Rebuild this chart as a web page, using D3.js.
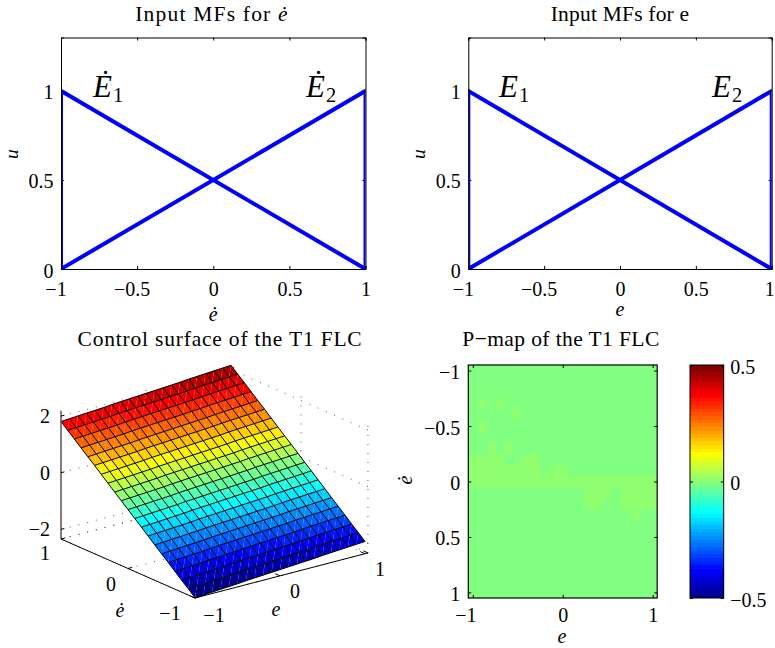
<!DOCTYPE html>
<html>
<head>
<meta charset="utf-8">
<script src="https://cdn.jsdelivr.net/npm/d3@7"></script>
<style>
  body { margin: 0; background: #fff; }
  svg { display: block; }
  text { font-family: "Liberation Serif", serif; fill: #000; }
  .mf-axis path, .mf-axis line { stroke: #000; stroke-width: 1; }
</style>
</head>
<body>
<svg id="fig" width="775" height="648"></svg>
<script>
// membership functions, same for both inputs
var mfTicksX = [-1, -0.5, 0, 0.5, 1],
    mfTicksU = [0, 0.5, 1],
    mfLine1X = [-1, -1, 1],
    mfLine1U = [0, 1, 0],
    mfLine2X = [-1, 1, 1],
    mfLine2U = [0, 1, 0];

// control surface, one row per edot value, one column per e value
var gridValues = [-1, -0.9, -0.8, -0.7, -0.6, -0.5, -0.4, -0.3, -0.2, -0.1, 0, 0.1, 0.2, 0.3, 0.4, 0.5, 0.6, 0.7, 0.8, 0.9, 1];
var surfaceZ = [
  [-2.33,-2.31,-2.29,-2.27,-2.25,-2.23,-2.20,-2.18,-2.16,-2.14,-2.12,-2.10,-2.08,-2.06,-2.04,-2.01,-1.99,-1.97,-1.95,-1.93,-1.91],
  [-2.12,-2.10,-2.08,-2.06,-2.04,-2.02,-1.99,-1.97,-1.95,-1.93,-1.91,-1.89,-1.87,-1.85,-1.83,-1.80,-1.78,-1.76,-1.74,-1.72,-1.70],
  [-1.92,-1.90,-1.88,-1.86,-1.84,-1.82,-1.79,-1.77,-1.75,-1.73,-1.71,-1.69,-1.67,-1.65,-1.63,-1.60,-1.58,-1.56,-1.54,-1.52,-1.50],
  [-1.71,-1.69,-1.67,-1.65,-1.63,-1.61,-1.58,-1.56,-1.54,-1.52,-1.50,-1.48,-1.46,-1.44,-1.42,-1.39,-1.37,-1.35,-1.33,-1.31,-1.29],
  [-1.50,-1.48,-1.46,-1.44,-1.42,-1.40,-1.37,-1.35,-1.33,-1.31,-1.29,-1.27,-1.25,-1.23,-1.21,-1.18,-1.16,-1.14,-1.12,-1.10,-1.08],
  [-1.30,-1.28,-1.26,-1.24,-1.22,-1.20,-1.17,-1.15,-1.13,-1.11,-1.09,-1.07,-1.05,-1.03,-1.01,-0.98,-0.96,-0.94,-0.92,-0.90,-0.88],
  [-1.09,-1.07,-1.05,-1.03,-1.01,-0.99,-0.96,-0.94,-0.92,-0.90,-0.88,-0.86,-0.84,-0.82,-0.80,-0.77,-0.75,-0.73,-0.71,-0.69,-0.67],
  [-0.88,-0.86,-0.84,-0.82,-0.80,-0.78,-0.75,-0.73,-0.71,-0.69,-0.67,-0.65,-0.63,-0.61,-0.59,-0.56,-0.54,-0.52,-0.50,-0.48,-0.46],
  [-0.67,-0.65,-0.63,-0.61,-0.59,-0.57,-0.54,-0.52,-0.50,-0.48,-0.46,-0.44,-0.42,-0.40,-0.38,-0.35,-0.33,-0.31,-0.29,-0.27,-0.25],
  [-0.47,-0.45,-0.43,-0.41,-0.39,-0.37,-0.34,-0.32,-0.30,-0.28,-0.26,-0.24,-0.22,-0.20,-0.18,-0.15,-0.13,-0.11,-0.09,-0.07,-0.05],
  [-0.26,-0.24,-0.22,-0.20,-0.18,-0.16,-0.13,-0.11,-0.09,-0.07,-0.05,-0.03,-0.01,0.01,0.03,0.06,0.08,0.10,0.12,0.14,0.16],
  [-0.05,-0.03,-0.01,0.01,0.03,0.05,0.08,0.10,0.12,0.14,0.16,0.18,0.20,0.22,0.24,0.27,0.29,0.31,0.33,0.35,0.37],
  [0.15,0.17,0.19,0.21,0.23,0.25,0.28,0.30,0.32,0.34,0.36,0.38,0.40,0.42,0.44,0.47,0.49,0.51,0.53,0.55,0.57],
  [0.36,0.38,0.40,0.42,0.44,0.46,0.49,0.51,0.53,0.55,0.57,0.59,0.61,0.63,0.65,0.68,0.70,0.72,0.74,0.76,0.78],
  [0.57,0.59,0.61,0.63,0.65,0.67,0.70,0.72,0.74,0.76,0.78,0.80,0.82,0.84,0.86,0.89,0.91,0.93,0.95,0.97,0.99],
  [0.78,0.80,0.82,0.84,0.86,0.88,0.91,0.93,0.95,0.97,0.99,1.01,1.03,1.05,1.07,1.10,1.12,1.14,1.16,1.18,1.20],
  [0.98,1.00,1.02,1.04,1.06,1.08,1.11,1.13,1.15,1.17,1.19,1.21,1.23,1.25,1.27,1.30,1.32,1.34,1.36,1.38,1.40],
  [1.19,1.21,1.23,1.25,1.27,1.29,1.32,1.34,1.36,1.38,1.40,1.42,1.44,1.46,1.48,1.51,1.53,1.55,1.57,1.59,1.61],
  [1.40,1.42,1.44,1.46,1.48,1.50,1.53,1.55,1.57,1.59,1.61,1.63,1.65,1.67,1.69,1.72,1.74,1.76,1.78,1.80,1.82],
  [1.60,1.62,1.64,1.66,1.68,1.70,1.73,1.75,1.77,1.79,1.81,1.83,1.85,1.87,1.89,1.92,1.94,1.96,1.98,2.00,2.02],
  [1.81,1.83,1.85,1.87,1.89,1.91,1.94,1.96,1.98,2.00,2.02,2.04,2.06,2.08,2.10,2.13,2.15,2.17,2.19,2.21,2.23]
];
var surfaceZTicks = [-2, 0, 2],
    surfaceGridTicks = [-1, 0, 1];

// p-map, rows run from edot=-1 at the top; A is just under zero, B just over
var A = -0.002, B = 0.002;
var pmap = [
  [A,A,A,A,A,A,A,A,A,A,A,A,A,A,A,A,A,A,A,A,A],
  [A,A,A,A,A,A,A,A,A,A,A,A,A,A,A,A,A,A,A,A,A],
  [A,A,A,A,A,A,A,A,A,A,A,A,A,A,A,A,A,A,A,A,A],
  [A,B,A,B,A,A,A,A,A,A,A,A,A,A,A,A,A,A,A,A,A],
  [A,A,A,A,A,B,A,A,A,A,A,A,A,A,A,A,A,A,A,A,A],
  [A,B,A,A,A,A,A,A,A,A,A,A,A,A,A,A,A,A,A,A,A],
  [A,A,A,A,A,A,A,A,A,A,A,A,A,A,A,A,A,A,A,A,A],
  [A,A,B,A,B,A,A,A,A,A,A,A,A,A,A,A,A,A,A,A,A],
  [B,B,B,B,A,A,B,B,A,A,A,A,A,A,A,A,A,A,A,A,A],
  [B,B,B,B,B,B,B,B,A,B,B,A,A,A,A,A,A,A,A,A,A],
  [B,B,B,B,B,B,B,B,B,B,B,B,B,B,B,B,B,B,B,B,B],
  [A,A,A,A,A,A,A,A,A,A,A,A,A,B,B,B,A,B,B,B,B],
  [A,A,A,A,A,A,A,A,A,A,A,A,A,B,B,A,A,B,B,B,B],
  [A,A,A,A,A,A,A,A,A,A,A,A,A,A,A,A,A,A,B,A,A],
  [A,A,A,A,A,A,A,A,A,A,A,A,A,A,A,A,A,A,A,A,A],
  [A,A,A,A,A,A,A,A,A,A,A,A,A,A,A,A,A,A,A,A,A],
  [A,A,A,A,A,A,A,A,A,A,A,A,A,A,A,A,A,A,A,A,A],
  [A,A,A,A,A,A,A,A,A,A,A,A,A,A,A,A,A,A,A,A,A],
  [A,A,A,A,A,A,A,A,A,A,A,A,A,A,A,A,A,A,A,A,A],
  [A,A,A,A,A,A,A,A,A,A,A,A,A,A,A,A,A,A,A,A,A],
  [A,A,A,A,A,A,A,A,A,A,A,A,A,A,A,A,A,A,A,A,A]
];
var pmapTicksX = [-1, 0, 1],
    pmapTicksY = [-1, -0.5, 0, 0.5, 1],
    colorbarTicks = [-0.5, 0, 0.5];

var svg = d3.select('#fig'),
    fmt = function (d) { return String(d).replace('-', '\u2212'); },
    TICK_FONT = 20,
    TITLE_FONT = 21.5,
    MINUS_W = 11;

// matlab jet(64)
var jet = d3.range(1, 65).map(function (i) {
    var x = i / 64,
        c = function (v) { return Math.round(255 * Math.max(0, Math.min(1, v))); };
    return 'rgb(' + c(Math.min(4 * x - 1.5, -4 * x + 4.5)) + ',' +
        c(Math.min(4 * x - 0.5, -4 * x + 3.5)) + ',' +
        c(Math.min(4 * x + 0.5, -4 * x + 2.5)) + ')';
});

// text with optional italic or subscript runs: [[string, 'i'|'s'|'']]
function label(parent, x, y, runs, opts) {
    opts = opts || {};
    var t = parent.append('text')
        .attr('x', x).attr('y', y)
        .attr('font-size', opts.size || TICK_FONT)
        .attr('text-anchor', opts.anchor || 'middle');
    if (opts.spacing) { t.attr('letter-spacing', opts.spacing); }
    if (opts.rotate) {
        t.attr('transform', 'rotate(' + opts.rotate + ' ' + x + ' ' + y + ')');
    }
    runs.forEach(function (r, i) {
        var s = t.append('tspan').text(r[0]);
        if (r[1] === 'i') { s.attr('font-style', 'italic'); }
        if (r[1] === 's') {
            s.attr('font-size', (opts.size || TICK_FONT) * 0.66).attr('dy', 5).attr('dx', 1);
        }
    });
    return t;
}

function restyleTicks(g) {
    g.selectAll('.tick text').attr('font-family', '"Liberation Serif", serif')
        .attr('font-size', TICK_FONT).attr('fill', '#000');
}

function drawMfPanel(left, right, titleRuns, titleX, titleSpacing, xRuns, xLabelY, names, nameXs, clipId) {
    var top = 37.5, bottom = 269,
        x = d3.scaleLinear().domain([-1, 1]).range([left, right]),
        y = d3.scaleLinear().domain([0, 1.3]).range([bottom, top]),
        g = svg.append('g'),
        line = d3.line().x(function (d) { return x(d[0]); }).y(function (d) { return y(d[1]); });

    svg.append('clipPath').attr('id', clipId).append('rect')
        .attr('x', left).attr('y', top).attr('width', right - left).attr('height', bottom - top);

    [[mfLine1X, mfLine1U], [mfLine2X, mfLine2U]].forEach(function (s) {
        g.append('path')
            .datum(d3.zip(s[0], s[1]))
            .attr('d', line)
            .attr('clip-path', 'url(#' + clipId + ')')
            .attr('fill', 'none').attr('stroke', '#0000ff').attr('stroke-width', 4);
    });

    var ax = g.append('g').attr('class', 'mf-axis').attr('transform', 'translate(0,' + bottom + ')')
        .call(d3.axisBottom(x).tickValues(mfTicksX).tickSize(-3).tickPadding(12.8).tickFormat(fmt));
    ax.call(restyleTicks);
    ax.selectAll('.tick text').filter(function (d) { return d < 0; }).attr('dx', -MINUS_W / 2);
    // the last label sits on the page edge, keep it on the page
    if (right > 770) {
        ax.selectAll('.tick text').filter(function (d) { return d === 1; }).attr('dx', -2.5);
    }
    g.append('g').attr('class', 'mf-axis').attr('transform', 'translate(0,' + top + ')')
        .call(d3.axisTop(x).tickValues(mfTicksX).tickSize(-3).tickFormat(''));
    g.append('g').attr('class', 'mf-axis').attr('transform', 'translate(' + left + ',0)')
        .call(d3.axisLeft(y).tickValues(mfTicksU).tickSize(-3).tickPadding(7.5).tickFormat(fmt))
        .call(restyleTicks)
        .selectAll('.tick text').attr('dy', '0.4em');
    g.append('g').attr('class', 'mf-axis').attr('transform', 'translate(' + right + ',0)')
        .call(d3.axisRight(y).tickValues(mfTicksU).tickSize(-3).tickFormat(''));

    label(g, titleX, 21, titleRuns, { size: TITLE_FONT, spacing: titleSpacing });
    label(g, (left + right) / 2, xLabelY, xRuns);
    label(g, left - 43.5, 154, [['u', 'i']], { rotate: -90, size: 19.5 });
    names.forEach(function (n, i) {
        label(g, nameXs[i], 97, [[n, 'i'], [String(i + 1), 's']], { size: 31, anchor: 'start' });
    });
}

drawMfPanel(61, 365.5, [['Input MFs for '], ['\u0117', 'i']], 212, 1.2,
    [['\u0117', 'i']], 321, ['\u0116', '\u0116'], [93, 306], 'clip-a');
drawMfPanel(468.3, 771.7, [['Input MFs for e']], 620, 0.2,
    [['e', 'i']], 316, ['E', 'E'], [499, 712], 'clip-b');

// ---- control surface, orthographic view worked out from the box corners
(function () {
    var g = svg.append('g'),
        zMin = -2.34, zMax = 2.19,
        eMax = 1.035,
        ex = d3.scaleLinear().domain([-1, 1]).range([0, 170]),
        ey = d3.scaleLinear().domain([-1, 1]).range([0, -44.3]),
        dx = d3.scaleLinear().domain([-1, 1]).range([0, -134]),
        dy = d3.scaleLinear().domain([-1, 1]).range([0, -59]),
        zy = d3.scaleLinear().domain([zMin, zMax]).range([0, -128.3]),
        color = d3.scaleQuantize().domain([d3.min(surfaceZ, function (r) { return d3.min(r); }),
            d3.max(surfaceZ, function (r) { return d3.max(r); })]).range(jet);

    function project(e, d, z) {
        return [195 + ex(e) + dx(d), 598 + ey(e) + dy(d) + zy(z)];
    }
    function seg(a, b, style) {
        var l = g.append('line')
            .attr('x1', a[0]).attr('y1', a[1]).attr('x2', b[0]).attr('y2', b[1])
            .attr('stroke', style.stroke || '#000').attr('stroke-width', style.width || 1);
        if (style.dash) { l.attr('stroke-dasharray', style.dash); }
    }
    var dotted = { stroke: '#555', width: 1, dash: '1 8' };

    // back walls and floor grid
    surfaceZTicks.concat([zMin]).forEach(function (z) {
        seg(project(eMax, -1, z), project(eMax, 1, z), dotted);
        seg(project(-1, 1, z), project(eMax, 1, z), dotted);
    });
    surfaceGridTicks.forEach(function (t) {
        seg(project(eMax, t, zMin), project(eMax, t, zMax), dotted);
        if (t > -1) { seg(project(t, 1, zMin), project(t, 1, zMax), dotted); }
        seg(project(t, -1, zMin), project(t, 1, zMin), dotted);
        seg(project(-1, t, zMin), project(eMax, t, zMin), dotted);
    });

    // facets, each one split along the long diagonal like the exported patch
    var cells = [];
    d3.range(20).forEach(function (j) {
        d3.range(20).forEach(function (i) { cells.push({ i: i, j: j }); });
    });
    function pts(c, corners) {
        return corners.map(function (k) {
            var ii = c.i + k[0], jj = c.j + k[1];
            return project(gridValues[ii], gridValues[jj], surfaceZ[jj][ii]).join(',');
        }).join(' ');
    }
    g.selectAll('polygon.tri-a').data(cells).enter().append('polygon')
        .attr('class', 'tri-a')
        .attr('points', function (c) { return pts(c, [[0, 0], [1, 0], [1, 1]]); })
        .attr('fill', function (c) { return color(surfaceZ[c.j][c.i]); });
    g.selectAll('polygon.tri-b').data(cells).enter().append('polygon')
        .attr('class', 'tri-b')
        .attr('points', function (c) { return pts(c, [[0, 0], [1, 1], [0, 1]]); })
        .attr('fill', function (c) { return color(surfaceZ[c.j][c.i]); });

    // mesh lines, one polyline per row and per column so no edge gets stroked twice
    var meshLine = d3.line();
    d3.range(21).forEach(function (k) {
        g.append('path')
            .attr('d', meshLine(gridValues.map(function (e, i) { return project(e, gridValues[k], surfaceZ[k][i]); })))
            .attr('fill', 'none').attr('stroke', '#000').attr('stroke-width', 1);
        g.append('path')
            .attr('d', meshLine(gridValues.map(function (d, j) { return project(gridValues[k], d, surfaceZ[j][k]); })))
            .attr('fill', 'none').attr('stroke', '#000').attr('stroke-width', 1);
    });

    // solid axes
    seg(project(-1, 1, zMin), project(-1, 1, zMax), { stroke: '#555', width: 1.5 });
    seg(project(-1, 1, zMin), project(-1, -1, zMin), {});
    seg(project(-1, -1, zMin), project(eMax, -1, zMin), {});
    surfaceZTicks.forEach(function (z) {
        seg(project(-1, 1, z), project(-0.96, 1, z), {});
    });
    surfaceGridTicks.forEach(function (t) {
        seg(project(t, -1, zMin), project(t, -0.93, zMin), {});
        seg(project(-1, t, zMin), project(-0.95, t, zMin), {});
    });
    seg(project(eMax, -1, zMin), project(eMax, -0.93, zMin), {});

    // tick labels, offsets from the projected axes
    var eLabelDx = [19, 15, 15], eLabelDy = [24, 22.6, 22.3],
        dLabelDx = [-25, -17, -16], dLabelDy = [22, 22.5, 21];
    surfaceZTicks.forEach(function (z) {
        label(g, 50, project(-1, 1, z)[1] + 7, [[fmt(z)]], { anchor: 'end' });
    });
    surfaceGridTicks.forEach(function (t, i) {
        var pe = project(t, -1, zMin), pd = project(-1, t, zMin);
        label(g, pe[0] + eLabelDx[i], pe[1] + eLabelDy[i], [[fmt(t)]]);
        label(g, pd[0] + dLabelDx[i], pd[1] + dLabelDy[i], [[fmt(t)]]);
    });
    label(g, 276, 616, [['e', 'i']]);
    label(g, 120, 617, [['\u0117', 'i']]);
    label(g, 220, 346, [['Control surface of the T1 FLC']], { size: TITLE_FONT, spacing: 0.8 });
})();

// ---- p-map and colorbar
(function () {
    var g = svg.append('g'),
        left = 468.3, right = 657.2, top = 365, bottom = 598,
        xCell = d3.scaleBand().domain(gridValues).range([left, right]),
        yCell = d3.scaleBand().domain(gridValues).range([top, bottom]),
        x = d3.scaleLinear().domain([-1.05, 1.05]).range([left, right]),
        y = d3.scaleLinear().domain([-1.05, 1.05]).range([top, bottom]),
        color = d3.scaleQuantize().domain([-0.5, 0.5]).range(jet),
        cells = [];

    pmap.forEach(function (row, j) {
        row.forEach(function (v, i) { cells.push({ e: gridValues[i], d: gridValues[j], v: v }); });
    });
    g.selectAll('rect.cell').data(cells).enter().append('rect')
        .attr('class', 'cell')
        .attr('x', function (c) { return xCell(c.e); })
        .attr('y', function (c) { return yCell(c.d); })
        .attr('width', xCell.bandwidth())
        .attr('height', yCell.bandwidth())
        .attr('fill', function (c) { return color(c.v); })
        .attr('shape-rendering', 'crispEdges');

    g.append('rect').attr('x', left).attr('y', top)
        .attr('width', right - left).attr('height', bottom - top)
        .attr('fill', 'none').attr('stroke', '#000').attr('stroke-width', 1.2);

    var ax = g.append('g').attr('class', 'mf-axis').attr('transform', 'translate(0,' + bottom + ')')
        .call(d3.axisBottom(x).tickValues(pmapTicksX).tickSize(-3).tickPadding(10).tickFormat(fmt));
    ax.call(restyleTicks);
    ax.select('.domain').remove();
    ax.selectAll('.tick text').filter(function (d) { return d < 0; }).attr('dx', -MINUS_W / 2 - 2);
    g.append('g').attr('class', 'mf-axis').attr('transform', 'translate(0,' + top + ')')
        .call(d3.axisTop(x).tickValues(pmapTicksX).tickSize(-3).tickFormat(''))
        .select('.domain').remove();
    var ay = g.append('g').attr('class', 'mf-axis').attr('transform', 'translate(' + left + ',0)')
        .call(d3.axisLeft(y).tickValues(pmapTicksY).tickSize(-3).tickPadding(8).tickFormat(fmt));
    ay.call(restyleTicks);
    ay.selectAll('.tick text').attr('dy', '0.4em');
    ay.select('.domain').remove();
    g.append('g').attr('class', 'mf-axis').attr('transform', 'translate(' + right + ',0)')
        .call(d3.axisRight(y).tickValues(pmapTicksY).tickSize(-3).tickFormat(''))
        .select('.domain').remove();

    label(g, 561, 346, [['P\u2212map of the T1 FLC']], { size: TITLE_FONT, spacing: 0.4 });
    label(g, 562, 643, [['e', 'i']]);
    label(g, 412, 480, [['\u0117', 'i']], { rotate: -90 });

    // colorbar
    var barLeft = 690, barRight = 723.7,
        levels = d3.range(64),
        barY = d3.scaleLinear().domain([-0.5, 0.5]).range([bottom, top]),
        band = d3.scaleBand().domain(levels).range([bottom, top]);
    g.selectAll('rect.level').data(levels).enter().append('rect')
        .attr('class', 'level')
        .attr('x', barLeft).attr('width', barRight - barLeft)
        .attr('y', function (l) { return band(l); })
        .attr('height', band.bandwidth())
        .attr('fill', function (l) { return jet[l]; })
        .attr('shape-rendering', 'crispEdges');
    g.append('rect').attr('x', barLeft).attr('y', top)
        .attr('width', barRight - barLeft).attr('height', bottom - top)
        .attr('fill', 'none').attr('stroke', '#000').attr('stroke-width', 1);
    var cb = g.append('g').attr('class', 'mf-axis').attr('transform', 'translate(' + barRight + ',0)')
        .call(d3.axisRight(barY).tickValues(colorbarTicks).tickSize(-3).tickPadding(6.5).tickFormat(fmt));
    cb.call(restyleTicks);
    cb.selectAll('.tick text').attr('dy', '0.4em');
    cb.select('.domain').remove();
    g.append('g').attr('class', 'mf-axis').attr('transform', 'translate(' + barLeft + ',0)')
        .call(d3.axisLeft(barY).tickValues(colorbarTicks).tickSize(-3).tickFormat(''))
        .select('.domain').remove();
})();
</script>
</body>
</html>
